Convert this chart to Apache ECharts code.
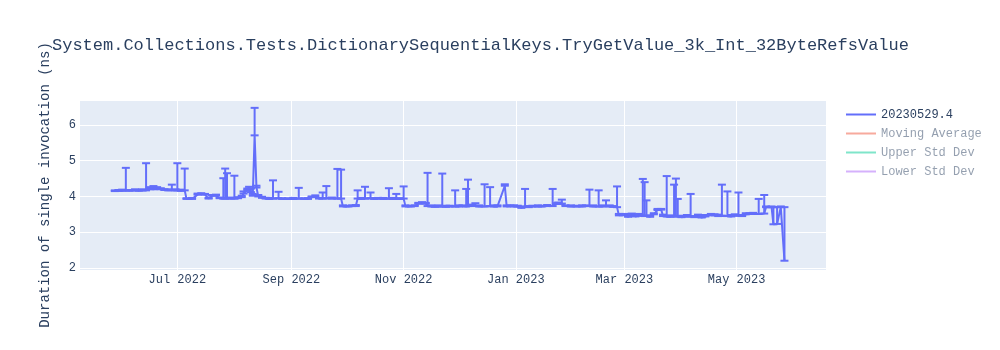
<!DOCTYPE html>
<html>
<head>
<meta charset="utf-8">
<script src="https://cdn.jsdelivr.net/npm/echarts@6/dist/echarts.min.js"></script>
<style>
  html, body { margin: 0; padding: 0; background: #fff; }
  #chart { width: 1000px; height: 350px; }
</style>
</head>
<body>
<div id="chart"></div>
<script>
// Benchmark run dates, mean duration (ns) and the upper error of each run
const dates = [
  '2022-05-28','2022-05-30','2022-06-01','2022-06-03','2022-06-05','2022-06-08','2022-06-10','2022-06-12','2022-06-14','2022-06-16',
  '2022-06-18','2022-06-20','2022-06-22','2022-06-24','2022-06-26','2022-06-28','2022-06-30','2022-07-01','2022-07-03','2022-07-05',
  '2022-07-06','2022-07-09','2022-07-12','2022-07-14','2022-07-16','2022-07-18','2022-07-20','2022-07-22','2022-07-24','2022-07-26',
  '2022-07-27','2022-07-28','2022-07-30','2022-08-01','2022-08-03','2022-08-05','2022-08-06','2022-08-08','2022-08-09','2022-08-10',
  '2022-08-11','2022-08-12','2022-08-13','2022-08-14','2022-08-16','2022-08-18','2022-08-20','2022-08-22','2022-08-25','2022-08-27',
  '2022-08-30','2022-09-02','2022-09-05','2022-09-08','2022-09-10','2022-09-12','2022-09-14','2022-09-16','2022-09-18','2022-09-20',
  '2022-09-23','2022-09-26','2022-09-28','2022-09-29','2022-10-02','2022-10-04','2022-10-06','2022-10-07','2022-10-09','2022-10-11',
  '2022-10-14','2022-10-16','2022-10-18','2022-10-21','2022-10-24','2022-10-26','2022-10-28','2022-10-30','2022-11-01','2022-11-02',
  '2022-11-05','2022-11-07','2022-11-09','2022-11-11','2022-11-13','2022-11-14','2022-11-16','2022-11-18','2022-11-20','2022-11-22',
  '2022-11-24','2022-11-26','2022-11-29','2022-12-01','2022-12-03','2022-12-05','2022-12-06','2022-12-08','2022-12-10','2022-12-12',
  '2022-12-15','2022-12-18','2022-12-20','2022-12-22','2022-12-26','2022-12-27','2022-12-29','2022-12-31','2023-01-02','2023-01-04',
  '2023-01-06','2023-01-08','2023-01-10','2023-01-13','2023-01-15','2023-01-18','2023-01-21','2023-01-23','2023-01-24','2023-01-26',
  '2023-01-28','2023-01-31','2023-02-03','2023-02-06','2023-02-08','2023-02-10','2023-02-12','2023-02-15','2023-02-17','2023-02-19',
  '2023-02-21','2023-02-23','2023-02-25','2023-02-26','2023-03-01','2023-03-03','2023-03-05','2023-03-07','2023-03-09','2023-03-11',
  '2023-03-12','2023-03-13','2023-03-15','2023-03-17','2023-03-19','2023-03-21','2023-03-22','2023-03-24','2023-03-26','2023-03-28',
  '2023-03-29','2023-03-30','2023-04-01','2023-04-04','2023-04-06','2023-04-08','2023-04-10','2023-04-12','2023-04-14','2023-04-17',
  '2023-04-19','2023-04-21','2023-04-23','2023-04-26','2023-04-28','2023-04-30','2023-05-02','2023-05-04','2023-05-06','2023-05-08',
  '2023-05-10','2023-05-13','2023-05-16','2023-05-17','2023-05-20','2023-05-21','2023-05-23','2023-05-25','2023-05-27'
];
const values = [
  4.15,4.16,4.16,4.17,4.16,4.17,4.16,4.17,4.17,4.21,
  4.20,4.22,4.20,4.18,4.17,4.18,4.17,4.17,4.16,4.17,
  3.93,3.93,4.05,4.07,4.05,3.94,4.02,4.03,3.95,3.94,
  3.94,3.95,3.94,3.94,3.95,3.98,4.08,4.18,4.22,4.12,
  4.02,5.71,4.25,4.00,3.96,3.94,3.93,3.94,3.95,3.93,
  3.93,3.93,3.94,3.93,3.93,3.98,3.99,3.94,3.94,3.95,
  3.94,3.94,3.94,3.72,3.72,3.73,3.73,3.94,3.93,3.94,
  3.95,3.93,3.94,3.93,3.94,3.93,3.94,3.93,3.94,3.72,
  3.72,3.73,3.80,3.81,3.80,3.73,3.72,3.71,3.72,3.72,
  3.71,3.72,3.72,3.72,3.73,3.72,3.73,3.74,3.73,3.72,
  3.72,3.73,3.72,3.72,4.30,3.72,3.73,3.72,3.72,3.68,
  3.72,3.70,3.72,3.72,3.72,3.73,3.73,3.79,3.80,3.80,
  3.73,3.72,3.72,3.72,3.73,3.73,3.72,3.72,3.72,3.73,
  3.72,3.71,3.70,3.47,3.48,3.43,3.49,3.44,3.47,3.46,
  3.45,3.46,3.43,3.50,3.62,3.63,3.45,3.44,3.43,3.45,
  3.44,3.44,3.42,3.44,3.44,3.42,3.45,3.41,3.44,3.48,
  3.47,3.45,3.46,3.45,3.44,3.47,3.46,3.45,3.50,3.51,
  3.51,3.51,3.52,3.70,3.70,3.22,3.23,3.70,2.20
];
const errPlus = [
  0.02,0.02,0.03,0.63,0.02,0.03,0.02,0.03,0.76,0.05,
  0.09,0.04,0.03,0.02,0.03,0.15,0.03,0.76,0.03,0.61,
  0.02,0.03,0.03,0.02,0.02,0.02,0.02,0.02,0.02,0.57,
  0.84,0.70,0.03,0.64,0.03,0.04,0.06,0.04,0.05,0.10,
  0.05,0.77,0.05,0.04,0.03,0.02,0.03,0.51,0.18,0.02,
  0.02,0.03,0.30,0.02,0.02,0.02,0.04,0.02,0.17,0.34,
  0.03,0.83,0.81,0.03,0.02,0.02,0.03,0.23,0.03,0.33,
  0.16,0.02,0.02,0.03,0.29,0.03,0.13,0.02,0.34,0.03,
  0.02,0.02,0.02,0.03,0.02,0.93,0.03,0.02,0.03,0.92,
  0.03,0.02,0.45,0.03,0.02,0.49,0.74,0.03,0.08,0.03,
  0.62,0.53,0.03,0.03,0.04,0.03,0.02,0.03,0.02,0.03,
  0.49,0.03,0.02,0.03,0.02,0.03,0.48,0.02,0.03,0.11,
  0.02,0.03,0.02,0.03,0.02,0.46,0.03,0.45,0.03,0.16,
  0.03,0.02,0.58,0.04,0.03,0.04,0.03,0.03,0.04,1.03,
  0.95,0.43,0.04,0.03,0.03,0.02,0.04,1.13,0.04,0.88,
  1.06,0.49,0.04,0.04,0.63,0.03,0.04,0.03,0.04,0.03,
  0.03,0.04,0.87,0.69,0.04,0.03,0.65,0.03,0.03,0.02,
  0.03,0.42,0.52,0.02,0.02,0.48,0.47,0.02,1.50
];
const xTickDates = ['2022-07-01','2022-09-01','2022-11-01','2023-01-01','2023-03-01','2023-05-01'];
const monthNames = ['Jan','Feb','Mar','Apr','May','Jun','Jul','Aug','Sep','Oct','Nov','Dec'];
const seriesName = '20230529.4';
const legendNames = [seriesName, 'Moving Average', 'Upper Std Dev', 'Lower Std Dev'];

const HOUR = 3600 * 1000;
const toTime = s => new Date(s + 'T00:00:00').getTime();
const FONT = '"Liberation Mono", "Courier New", monospace';
const TEXT = '#2a3f5f';
const FADED_TEXT = 'rgba(42,63,95,0.5)';
const BLUE = '#636efa';

const lineData = dates.map((d, i) => [toTime(d), values[i]]);
const errData = dates.map((d, i) => [toTime(d), values[i], +(values[i] + errPlus[i]).toFixed(2)]);
const xTicks = xTickDates.map(toTime);

const chart = echarts.init(document.getElementById('chart'), null, { renderer: 'canvas' });

// vertical error bar with a cap at both ends
function renderErrorBar(params, api) {
  const x = api.value(0);
  const low = api.coord([x, api.value(1)]);
  const high = api.coord([x, api.value(2)]);
  const half = 4;
  const style = { stroke: BLUE, lineWidth: 2 };
  return {
    type: 'group',
    children: [
      { type: 'line', shape: { x1: low[0], y1: low[1], x2: high[0], y2: high[1] }, style },
      { type: 'line', shape: { x1: high[0] - half, y1: high[1], x2: high[0] + half, y2: high[1] }, style },
      { type: 'line', shape: { x1: low[0] - half, y1: low[1], x2: low[0] + half, y2: low[1] }, style }
    ]
  };
}

chart.setOption({
  animation: false,
  backgroundColor: '#ffffff',
  textStyle: { fontFamily: FONT },
  title: {
    text: 'System.Collections.Tests.DictionarySequentialKeys.TryGetValue_3k_Int_32ByteRefsValue',
    left: 47,
    top: 32,
    textStyle: { fontFamily: FONT, fontSize: 17, fontWeight: 'normal', color: TEXT }
  },
  legend: {
    orient: 'vertical',
    left: 846,
    top: 107,
    padding: 0,
    itemWidth: 30,
    itemHeight: 2,
    itemGap: 4,
    icon: 'rect',
    textStyle: { fontFamily: FONT, fontSize: 12, color: TEXT, lineHeight: 15 },
    data: [
      { name: legendNames[0], itemStyle: { color: BLUE } },
      { name: legendNames[1], itemStyle: { color: 'rgba(239,85,59,0.5)' }, textStyle: { color: FADED_TEXT } },
      { name: legendNames[2], itemStyle: { color: 'rgba(0,204,150,0.5)' }, textStyle: { color: FADED_TEXT } },
      { name: legendNames[3], itemStyle: { color: 'rgba(171,99,250,0.5)' }, textStyle: { color: FADED_TEXT } }
    ],
    selectedMode: false
  },
  grid: {
    left: 80,
    top: 100,
    width: 746,
    height: 170,
    show: true,
    backgroundColor: '#E5ECF6',
    borderWidth: 0
  },
  xAxis: {
    type: 'value',
    min: toTime('2022-05-09') + 2 * HOUR,
    max: toTime('2023-06-18') + 14 * HOUR,
    axisLine: { show: false },
    axisTick: { show: false, customValues: xTicks },
    splitLine: { show: true, lineStyle: { color: '#ffffff', width: 1 } },
    axisLabel: {
      customValues: xTicks,
      fontFamily: FONT,
      fontSize: 12,
      color: TEXT,
      margin: 4,
      formatter: v => {
        const d = new Date(v);
        return monthNames[d.getMonth()] + ' ' + d.getFullYear();
      }
    }
  },
  yAxis: {
    type: 'value',
    min: 1.94,
    max: 6.7,
    splitNumber: 5,
    name: 'Duration of single invocation (ns)',
    nameLocation: 'middle',
    nameGap: 28,
    nameTextStyle: { fontFamily: FONT, fontSize: 14, color: TEXT },
    axisLine: { show: false },
    axisTick: { show: false },
    splitLine: { show: true, lineStyle: { color: '#ffffff', width: 1 } },
    axisLabel: {
      fontFamily: FONT,
      fontSize: 12,
      color: TEXT,
      margin: 4,
      showMinLabel: false,
      showMaxLabel: false
    }
  },
  series: [
    {
      name: seriesName,
      type: 'line',
      data: lineData,
      showSymbol: false,
      symbol: 'none',
      lineStyle: { color: BLUE, width: 2 },
      itemStyle: { color: BLUE },
      z: 3
    },
    {
      name: 'errors',
      type: 'custom',
      data: errData,
      renderItem: renderErrorBar,
      encode: { x: 0, y: [1, 2] },
      clip: true,
      z: 4
    },
    { name: legendNames[1], type: 'line', data: [], itemStyle: { color: 'rgba(239,85,59,0.5)' } },
    { name: legendNames[2], type: 'line', data: [], itemStyle: { color: 'rgba(0,204,150,0.5)' } },
    { name: legendNames[3], type: 'line', data: [], itemStyle: { color: 'rgba(171,99,250,0.5)' } }
  ]
});
</script>
</body>
</html>
